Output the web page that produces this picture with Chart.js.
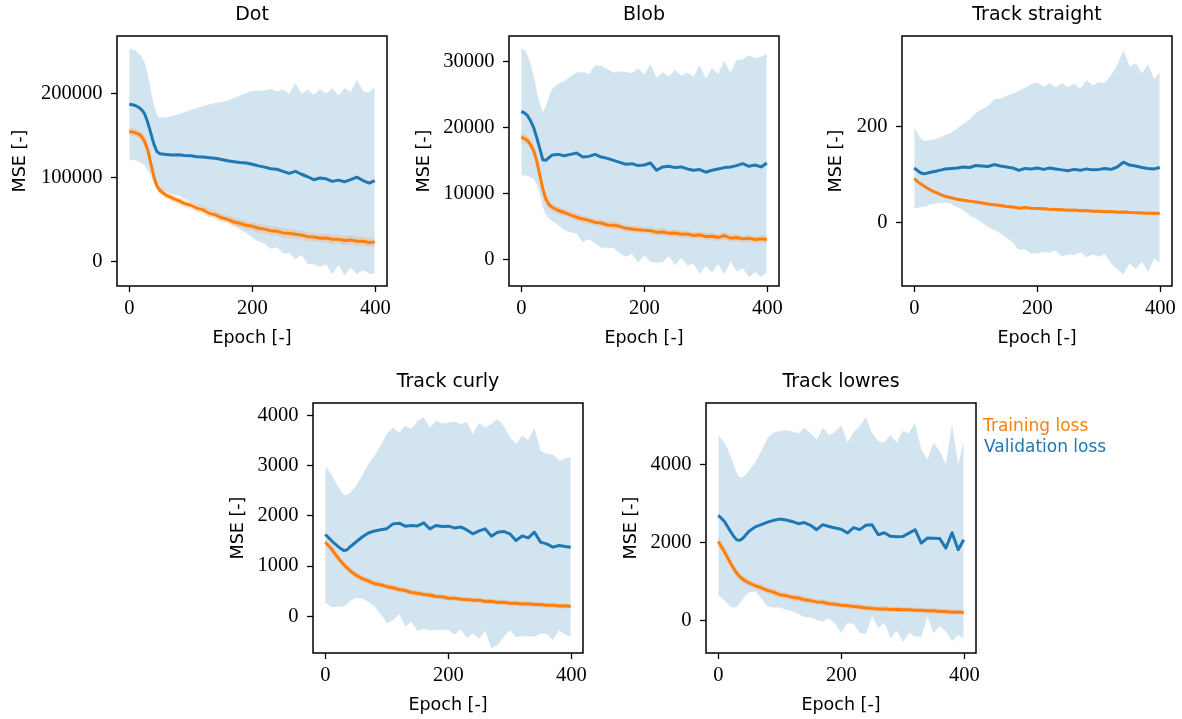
<!DOCTYPE html>
<html><head><meta charset="utf-8">
<script src="https://cdn.jsdelivr.net/npm/chart.js@4.4.1/dist/chart.umd.min.js"></script>
<style>
html,body{margin:0;padding:0;background:#fff;}
body{width:1182px;height:719px;position:relative;overflow:hidden;}
canvas{position:absolute;}
</style></head><body>
<canvas id="p1"></canvas><canvas id="p2"></canvas><canvas id="p3"></canvas><canvas id="p4"></canvas><canvas id="p5"></canvas>
<script>
// ---------------- data ----------------
const epochs = [0,5,10,15,20,25,30,35,40,45,50,
  60,70,80,90,100,110,120,130,140,150,
  160,170,180,190,200,210,220,230,240,250,
  260,270,280,290,300,310,320,330,340,350,
  360,370,380,390,399];
const xTicks = [0,200,400];

// Dot
const dotValMean = [187500,187000,186000,184000,181000,176000,166000,153000,140000,131000,128500,
  127500,127000,127200,126500,126000,125000,124500,123800,123000,121500,
  120000,119000,118000,117500,116000,114000,112500,110500,110000,107500,
  105000,107500,104000,101000,97500,99500,98500,95500,97000,95000,
  97500,100500,96500,93500,96500];
const dotValStd = [66000,65800,65500,64800,63500,61000,57500,51500,46500,43800,43000,
  44500,46500,48500,51500,55000,58000,61000,63500,66000,68500,
  72000,76000,80000,83500,87500,90000,91500,95500,93000,98000,
  95000,105000,96000,104000,101000,106000,102000,111000,101000,112000,
  105000,116000,107000,108000,111500];
const dotTrainMean = [155000,154500,153500,152000,149000,143000,133000,117000,101000,90000,84500,
  79000,75500,72500,69000,67000,63500,61500,57500,55500,52000,
  50000,47000,45500,43000,42000,39500,38500,36500,36000,34000,
  33500,32500,31500,29500,29000,27500,28000,26500,26500,25000,
  25500,24000,24000,22500,23000];
const dotTrainStd = [4500,4500,4500,4600,5000,6000,7000,7500,7000,5500,4500,
  4000,4500,4000,4800,4200,5000,4300,5200,4500,5000,
  4400,5500,4600,5200,4800,5600,4800,5400,5000,5800,
  5000,5500,4900,5600,5000,5400,5100,5700,5000,5500,
  5100,5600,5000,5400,5200];
const dotYTicks = [0,100000,200000];

// Blob
const blobValMean = [22400,22200,21800,21000,20000,18500,16800,15100,15000,15400,15800,
  15900,15700,15900,16100,15500,15600,15900,15500,15300,15000,
  14700,14400,14500,14200,14300,14600,13500,14000,14100,13900,
  14000,13700,13500,13600,13200,13500,13700,13900,14000,14200,
  14500,14100,14300,14000,14600];
const blobValStd = [9600,9500,9200,8600,7800,7100,6800,7200,8200,9300,10000,
  10700,11300,11800,12200,12900,12500,13500,13800,13500,13300,
  13800,14000,13700,14700,13700,15000,14000,14400,13600,14800,
  13800,14600,14200,15800,14200,15500,14400,16200,14300,16000,
  15800,16800,16200,16700,16500];
const blobTrainMean = [18500,18300,18000,17400,16500,15000,12800,10700,9100,8300,7900,
  7400,7100,6700,6400,6100,5900,5600,5500,5200,5150,
  5000,4700,4600,4500,4400,4350,4100,4150,3950,4000,
  3800,3850,3600,3700,3450,3500,3300,3600,3200,3300,
  3100,3200,3000,3100,3000];
const blobTrainStd = [700,700,700,700,750,850,950,900,750,650,600,
  550,550,500,550,500,600,480,560,500,580,
  480,560,500,600,480,560,500,620,480,560,
  500,600,480,560,500,620,480,580,500,560,
  480,580,500,560,520];
const blobYTicks = [0,10000,20000,30000];

// Track straight
const straightValMean = [113,108,103,101,102,103.5,105,106,108,109,111,
  112,113,115,114,118,117,116,120,117,115,
  113,108,112,111,113,110,113,111,109,107,
  110,108,111,109,110,112,110,115,125,119,
  117,114,112,111,114];
const straightValStd = [84,78,72,69,68,67,67,67,68,69,70,
  74,82,90,100,110,118,126,136,140,148,
  155,165,168,176,178,172,176,170,180,174,
  178,170,184,176,182,178,196,212,233,205,
  214,196,216,186,198];
const straightTrainMean = [91,85,80,76,72,68,65,62,59,56.5,54,
  51,48,46,44,42,40,38,36.5,35,33,
  32,29,30.5,29,28.5,28,27,26.5,26,25,
  25.5,24,24.5,23,23,22,22.5,21,21.5,20.5,
  20,19.5,19,18.5,18];
const straightTrainStd = [4,4,4,3.8,3.6,3.5,3.5,3.4,3.4,3.3,3.3,
  3.2,3.6,3.1,3.5,3.2,3.6,3.1,3.5,3.2,3.6,
  3.1,3.6,3.2,3.5,3.1,3.6,3.2,3.5,3.1,3.6,
  3.2,3.5,3.1,3.6,3.2,3.5,3.1,3.6,3.2,3.5,
  3.1,3.5,3.2,3.4,3.2];
const straightYTicks = [0,200];

// Track curly
const curlyValMean = [1629,1570,1510,1450,1397,1350,1311,1320,1380,1430,1480,
  1579,1658,1698,1724,1745,1840,1854,1795,1808,1800,
  1860,1741,1808,1790,1795,1760,1780,1720,1642,1700,
  1741,1596,1675,1690,1642,1510,1600,1560,1675,1477,
  1443,1377,1410,1390,1377];
const curlyValStd = [1350,1337,1323,1265,1203,1160,1110,1090,1080,1095,1115,
  1221,1374,1500,1672,1883,1920,1807,1998,1919,2092,
  2100,2019,2084,2050,2065,2120,2046,2150,1986,2150,
  2019,2230,2251,2100,1920,1920,2000,1950,2085,1820,
  1788,1850,1688,1750,1788];
const curlyTrainMean = [1476,1410,1344,1260,1178,1100,1033,970,914,860,820,
  750,705,650,630,590,570,535,515,475,460,
  435,425,395,390,360,360,340,335,318,322,
  296,300,276,282,262,262,246,250,234,236,
  222,222,206,210,196];
const curlyTrainStd = [80,80,78,76,75,72,70,68,66,65,64,
  62,66,60,64,58,62,56,60,55,60,
  54,58,52,58,52,56,50,56,50,55,
  50,54,48,54,48,52,48,54,46,52,
  48,52,46,50,48];
const curlyYTicks = [0,1000,2000,3000,4000];

// Track lowres
const lowresValMean = [2692,2620,2538,2410,2282,2160,2068,2060,2111,2200,2286,
  2400,2456,2520,2567,2598,2575,2538,2482,2510,2440,
  2328,2456,2410,2370,2340,2243,2380,2330,2440,2456,
  2200,2250,2158,2150,2154,2240,2328,1987,2115,2110,
  2100,1859,2250,1817,2072];
const lowresValStd = [2043,2030,2009,1970,1923,1820,1710,1600,1560,1545,1560,
  1640,1880,2150,2233,2248,2290,2300,2300,2418,2350,
  2301,2472,2336,2450,2650,2301,2450,2640,2770,2330,
  2387,2300,2599,2394,2692,2550,2728,2390,2003,2434,
  2231,2131,2763,2173,2515];
const lowresTrainMean = [2026,1900,1769,1620,1470,1340,1214,1130,1060,1010,974,
  897,845,780,735,670,645,605,585,540,518,
  485,475,440,425,398,390,365,355,330,320,
  305,305,290,297,286,285,270,270,257,260,
  240,240,223,225,212];
const lowresTrainStd = [120,118,115,112,110,105,100,96,92,90,88,
  85,90,82,88,80,86,78,84,76,82,
  74,80,72,78,70,76,70,76,68,74,
  68,74,66,72,66,72,64,70,64,70,
  62,68,62,66,64];
const lowresYTicks = [0,2000,4000];

const titles = ['Dot','Blob','Track straight','Track curly','Track lowres'];
const legendLabels = ['Training loss','Validation loss'];

// ---------------- style / layout ----------------
const BLUE = '#1f77b4', ORANGE = '#ff7f0e';
const BLUE_FILL = 'rgba(31,119,180,0.2)', ORANGE_FILL = 'rgba(255,127,14,0.2)';
const AX_W = 117, AX_H = 66, TOP = 36, PW = 270, PH = 250;

const panels = [
  {id:'p1', title:titles[0], box:[117,36], vm:dotValMean, vs:dotValStd, tm:dotTrainMean, ts:dotTrainStd, ymin:-29400, ymax:269000, yt:dotYTicks, ylx:20.5},
  {id:'p2', title:titles[1], box:[509,36], vm:blobValMean, vs:blobValStd, tm:blobTrainMean, ts:blobTrainStd, ymin:-4040, ymax:33840, yt:blobYTicks, ylx:32.5},
  {id:'p3', title:titles[2], box:[902,36], vm:straightValMean, vs:straightValStd, tm:straightTrainMean, ts:straightTrainStd, ymin:-132.6, ymax:387.5, yt:straightYTicks, ylx:51.7},
  {id:'p4', title:titles[3], box:[313,403], vm:curlyValMean, vs:curlyValStd, tm:curlyTrainMean, ts:curlyTrainStd, ymin:-730, ymax:4246, yt:curlyYTicks, ylx:42.3},
  {id:'p5', title:titles[4], box:[706,403], vm:lowresValMean, vs:lowresValStd, tm:lowresTrainMean, ts:lowresTrainStd, ymin:-819, ymax:5561, yt:lowresYTicks, ylx:42, legend:true}
];

const framePlugin = {
  id:'frame',
  afterDatasetsDraw(chart){
    const {ctx, chartArea:a} = chart;
    ctx.save(); ctx.strokeStyle = '#000'; ctx.lineWidth = 1.5;
    ctx.strokeRect(a.left, a.top, a.right - a.left, a.bottom - a.top);
    ctx.restore();
  }
};
const legendPlugin = {
  id:'textLegend',
  afterDraw(chart, args, opts){
    if (!opts.show) return;
    const ctx = chart.ctx, a = chart.chartArea;
    ctx.save();
    ctx.font = '17px "DejaVu Sans"';
    ctx.textBaseline = 'alphabetic'; ctx.textAlign = 'left';
    ctx.fillStyle = ORANGE; ctx.fillText(legendLabels[0], a.right + 7, a.top + 28);
    ctx.fillStyle = BLUE;   ctx.fillText(legendLabels[1], a.right + 8, a.top + 49);
    ctx.restore();
  }
};

const pts = (arr) => epochs.map((e,i) => ({x:e, y:arr[i]}));
const add = (m,s,sign) => m.map((v,i) => v + sign*s[i]);

panels.forEach(p => {
  const cv = document.getElementById(p.id);
  const left = p.box[0] - AX_W, top = p.box[1] - TOP;
  const width = p.legend ? (1182 - left) : (AX_W + PW + 10);
  const height = TOP + PH + AX_H;
  cv.width = width; cv.height = height;
  cv.style.left = left + 'px'; cv.style.top = top + 'px';
  cv.style.width = width + 'px'; cv.style.height = height + 'px';
  const padRight = width - AX_W - PW;

  const band = (arr, color) => ({data:pts(arr), borderWidth:0, borderColor:'rgba(0,0,0,0)', backgroundColor:color, pointRadius:0, tension:0});
  const line = (arr, color) => ({data:pts(arr), borderWidth:3, borderColor:color, pointRadius:0, fill:false, tension:0, borderJoinStyle:'round', borderCapStyle:'butt'});

  new Chart(cv, {
    type:'line',
    data:{datasets:[
      Object.assign(line(p.tm, ORANGE), {label:legendLabels[0]}),
      Object.assign(line(p.vm, BLUE), {label:legendLabels[1]}),
      Object.assign(band(add(p.tm,p.ts,1), ORANGE_FILL), {fill:'+1'}),
      Object.assign(band(add(p.tm,p.ts,-1), ORANGE_FILL), {fill:false}),
      Object.assign(band(add(p.vm,p.vs,1), BLUE_FILL), {fill:'+1'}),
      Object.assign(band(add(p.vm,p.vs,-1), BLUE_FILL), {fill:false})
    ]},
    options:{
      responsive:false, animation:false, events:[], devicePixelRatio:1,
      layout:{padding:{left:0, right:padRight, top:0, bottom:0}},
      plugins:{
        legend:{display:false}, tooltip:{enabled:false},
        title:{display:true, text:p.title, fullSize:false, color:'#000',
          font:{family:'DejaVu Sans', size:19, weight:'normal', lineHeight:'22px'},
          padding:{top:4, bottom:10}},
        textLegend:{show:!!p.legend}
      },
      scales:{
        x:{type:'linear', min:-19.95, max:418.95,
          afterBuildTicks:(s)=>{ s.ticks = xTicks.map(v=>({value:v})); },
          afterFit:(s)=>{ s.height = AX_H; },
          grid:{display:true, drawOnChartArea:false, drawTicks:true, tickLength:6, tickWidth:1.3, tickColor:'#000'},
          border:{display:false},
          ticks:{color:'#000', padding:4, maxRotation:0, autoSkip:false,
            font:{family:'Liberation Serif', size:20.5, lineHeight:1.2},
            callback:(v)=>String(v)},
          title:{display:true, text:'Epoch [-]', color:'#000',
            font:{family:'DejaVu Sans', size:17.5, lineHeight:'20px'},
            padding:{top:0, bottom:4}}
        },
        y:{type:'linear', min:p.ymin, max:p.ymax,
          afterBuildTicks:(s)=>{ s.ticks = p.yt.map(v=>({value:v})); },
          afterFit:(s)=>{ s.width = AX_W; },
          grid:{display:true, drawOnChartArea:false, drawTicks:true, tickLength:6, tickWidth:1.3, tickColor:'#000'},
          border:{display:false},
          ticks:{color:'#000', padding:8.5, autoSkip:false,
            font:{family:'Liberation Serif', size:20.5, lineHeight:1.2},
            callback:(v)=>String(v)},
          title:{display:true, text:'MSE [-]', color:'#000',
            font:{family:'DejaVu Sans', size:17.5, lineHeight:'20px'},
            padding:{top:p.ylx - 10, bottom:0}}
        }
      }
    },
    plugins:[framePlugin, legendPlugin]
  });
});
</script>
</body></html>
